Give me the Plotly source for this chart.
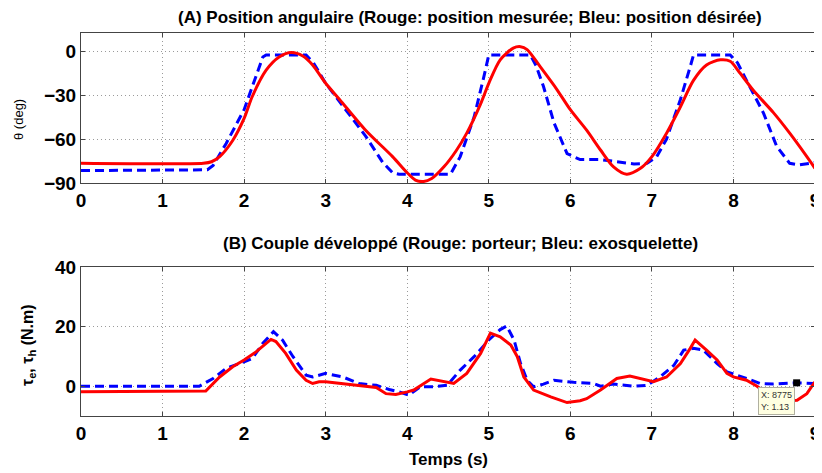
import plotly.graph_objects as go

# ---- Data ----
t_pos_mes = [0, 1.5, 1.6, 1.7, 1.86, 2.0, 2.1, 2.27, 2.43, 2.58, 2.72, 2.84, 3.0, 3.17, 3.49, 3.82,
             4.0, 4.1, 4.2, 4.3, 4.45, 4.6, 4.73, 4.9, 5.0, 5.14, 5.3, 5.39, 5.47, 5.63, 5.84, 6.0,
             6.2, 6.37, 6.53, 6.69, 6.86, 7.0, 7.18, 7.35, 7.51, 7.67, 7.84, 7.96, 8.08, 8.24, 8.49,
             8.69, 8.9, 9.0]
pos_mes = [-76.5, -76.5, -75.5, -72, -61, -46, -31, -13, -4, -1, -3.4, -9.5, -22, -33, -54, -72,
           -83, -88, -89, -87, -79, -68, -56, -36, -22, -6, 2, 3, 1, -10.7, -26.6, -40,
           -54, -67.5, -79, -84, -80, -72, -56, -38, -20, -9.5, -6, -7, -15, -26.6, -42,
           -56, -72, -80]

t_pos_des = [0, 1.55, 1.62, 1.78, 2.0, 2.1, 2.23, 2.27, 2.76, 2.85, 3.0, 3.17, 3.49, 3.7, 3.82, 3.9,
             4.53, 4.65, 4.82, 4.94, 5.0, 5.51, 5.58, 5.67, 5.8, 5.96, 6.12, 6.37, 6.78, 6.94, 7.06,
             7.18, 7.35, 7.47, 7.51, 7.96, 8.05, 8.16, 8.37, 8.53, 8.69, 8.8, 9.0]
pos_des = [-81.5, -81, -78, -63, -40, -24, -4, -2.7, -2.7, -8, -22, -34.5, -58, -76, -83, -84,
           -84, -72, -45, -17.5, -2.7, -2.7, -10, -24, -49, -70, -74, -74, -77, -76.6, -72,
           -60, -33, -10.7, -2.7, -2.7, -8, -20, -42.5, -65, -76.6, -77.7, -76]

t_couple_porteur = [0, 1.53, 1.7, 1.86, 2.0, 2.15, 2.27, 2.33, 2.39, 2.51, 2.64, 2.76, 2.84, 2.92, 3.0,
                    3.29, 3.62, 3.74, 3.86, 4.0, 4.08, 4.29, 4.45, 4.57, 4.73, 4.9, 5.02, 5.14, 5.27,
                    5.35, 5.43, 5.55, 5.76, 5.96, 6.12, 6.2, 6.37, 6.57, 6.73, 6.86, 7.02, 7.18, 7.35,
                    7.47, 7.53, 7.67, 7.8, 7.92, 8.0, 8.16, 8.29, 8.41, 8.6, 8.78, 8.9, 9.0]
couple_porteur = [-1.9, -1.6, 3.1, 6.5, 8.8, 11.6, 14.4, 15.7, 15, 11, 5.4, 2, 0.9, 1.5, 1.5,
                  0.7, -0.4, -2.5, -2.8, -1.9, -1.3, 2.4, 1.5, 0.9, 4.3, 11, 17.8, 16.6, 13.8,
                  9.9, 3.1, -1.3, -3.6, -5.5, -4.9, -4.2, -1.3, 2.6, 3.4, 2.6, 1.5, 3.1, 7.6,
                  12.7, 15.5, 12.1, 8.8, 4.3, 3.1, 2, 0, -2.5, -5, -4.7, -2.5, 1.5]

t_couple_exo = [0, 1.45, 1.62, 1.78, 2.0, 2.1, 2.23, 2.36, 2.47, 2.6, 2.76, 2.84, 3.0, 3.21, 3.41,
                3.62, 3.78, 3.9, 4.02, 4.16, 4.33, 4.49, 4.65, 4.82, 5.0, 5.14, 5.22, 5.31, 5.39,
                5.47, 5.55, 5.67, 5.8, 6.04, 6.29, 6.37, 6.53, 6.78, 6.94, 7.1, 7.27, 7.39, 7.51,
                7.63, 7.8, 7.92, 8.16, 8.33, 8.49, 8.775, 9.0]
couple_exo = [0, 0, 2.6, 6, 8.2, 9.3, 14.4, 18.3, 15.5, 9.9, 3.7, 3.1, 4.3, 3.1, 0.9,
              0.3, -1.1, -1.9, -3.0, -0.2, -0.2, 0.3, 5.4, 9.9, 15.5, 19, 20.2, 15.5, 7.6,
              2, -0.2, 0.7, 2, 1.3, 0.9, 0, 0.7, 0, 0.3, 3.1, 7, 12.1, 12.7,
              12.1, 7.6, 4.8, 2.6, 0.9, 0.7, 1.13, 0.9]

datatip_x = 8.775
datatip_y = 1.13
datatip_text = "X: 8775<br>Y: 1.13"

x_ticks = [0, 1, 2, 3, 4, 5, 6, 7, 8, 9]
y_ticks_top = [-90, -60, -30, 0]
y_ticks_bot = [0, 20, 40]

title_a = "(A) Position angulaire (Rouge: position mesurée; Bleu: position désirée)"
title_b = "(B) Couple développé (Rouge: porteur; Bleu: exosquelette)"
xlabel = "Temps (s)"
ylabel_a = "θ (deg)"
ylabel_b = "τ<sub>e</sub>, τ<sub>h</sub> (N.m)"

RED = "#ff0000"
BLUE = "#0000ff"
FONT = "Liberation Sans, Arial, Helvetica, sans-serif"

# page body has an 8px margin: the figure is placed at (8, 8) of the 822x473 window
OFF = 8
W, H = 822 - OFF, 473 - OFF


def px(xp):
    return (xp - OFF) / W


def py(yp):
    return 1 - (yp - OFF) / H


fig = go.Figure()
fig.add_trace(go.Scatter(x=t_pos_des, y=pos_des, mode="lines",
                         line=dict(color=BLUE, width=3, dash="9px,5px"),
                         xaxis="x", yaxis="y", showlegend=False))
fig.add_trace(go.Scatter(x=t_pos_mes, y=pos_mes, mode="lines",
                         line=dict(color=RED, width=3, shape="spline", smoothing=0.8),
                         xaxis="x", yaxis="y", showlegend=False))
fig.add_trace(go.Scatter(x=t_couple_exo, y=couple_exo, mode="lines",
                         line=dict(color=BLUE, width=3, dash="9px,5px"),
                         xaxis="x2", yaxis="y2", showlegend=False))
fig.add_trace(go.Scatter(x=t_couple_porteur, y=couple_porteur, mode="lines",
                         line=dict(color=RED, width=3),
                         xaxis="x2", yaxis="y2", showlegend=False))
fig.add_trace(go.Scatter(x=[datatip_x], y=[datatip_y], mode="markers",
                         marker=dict(symbol="square", size=7, color="black"),
                         xaxis="x2", yaxis="y2", showlegend=False))

dom_x = [px(81), px(815)]
dom_top = [py(183), py(33)]
dom_bot = [py(416), py(267)]

axis_common = dict(showline=True, linecolor="#444444", linewidth=1, mirror="ticks",
                   ticks="inside", ticklen=4, tickcolor="#444444",
                   showgrid=True, gridcolor="#9a9a9a", griddash="1px,3px", gridwidth=1,
                   zeroline=False, ticklabeloverflow="allow",
                   tickfont=dict(family=FONT, size=19, color="black", weight="bold"))

fig.update_layout(
    width=W, height=H,
    margin=dict(l=0, r=0, t=0, b=0),
    paper_bgcolor="white", plot_bgcolor="white",
    xaxis=dict(domain=dom_x, range=[0, 9], tickvals=x_ticks, anchor="y", automargin=False,
               **axis_common),
    yaxis=dict(domain=dom_top, range=[-90, 12.3], tickvals=y_ticks_top, anchor="x",
               automargin=False, **axis_common),
    xaxis2=dict(domain=dom_x, range=[0, 9], tickvals=x_ticks, anchor="y2", automargin=False,
                **axis_common),
    yaxis2=dict(domain=dom_bot, range=[-10, 40], tickvals=y_ticks_bot, anchor="x2",
                automargin=False, **axis_common),
)

fig.add_annotation(text=title_a, xref="paper", yref="paper", x=px(470), y=py(18),
                   xanchor="center", yanchor="middle", showarrow=False,
                   font=dict(family=FONT, size=17, color="black", weight="bold"))
fig.add_annotation(text=title_b, xref="paper", yref="paper", x=px(460), y=py(243),
                   xanchor="center", yanchor="middle", showarrow=False,
                   font=dict(family=FONT, size=17, color="black", weight="bold"))
fig.add_annotation(text=xlabel, xref="paper", yref="paper", x=px(448), y=py(459),
                   xanchor="center", yanchor="middle", showarrow=False,
                   font=dict(family=FONT, size=17, color="black", weight="bold"))
fig.add_annotation(text=ylabel_a, xref="paper", yref="paper", x=px(18), y=py(120),
                   xanchor="center", yanchor="middle", showarrow=False, textangle=-90,
                   font=dict(family=FONT, size=13, color="black"))
fig.add_annotation(text=ylabel_b, xref="paper", yref="paper", x=px(28), y=py(345),
                   xanchor="center", yanchor="middle", showarrow=False, textangle=-90,
                   font=dict(family=FONT, size=16, color="black", weight="bold"))
fig.add_annotation(text=datatip_text, xref="x2", yref="y2", x=datatip_x, y=datatip_y,
                   showarrow=True, arrowcolor="rgba(0,0,0,0)", ax=-20, ay=18,
                   align="left", bgcolor="#ffffe1", bordercolor="#b0b0a0", borderwidth=1,
                   borderpad=2,
                   font=dict(family=FONT, size=9, color="#333333"))

fig.write_html("out.html")
